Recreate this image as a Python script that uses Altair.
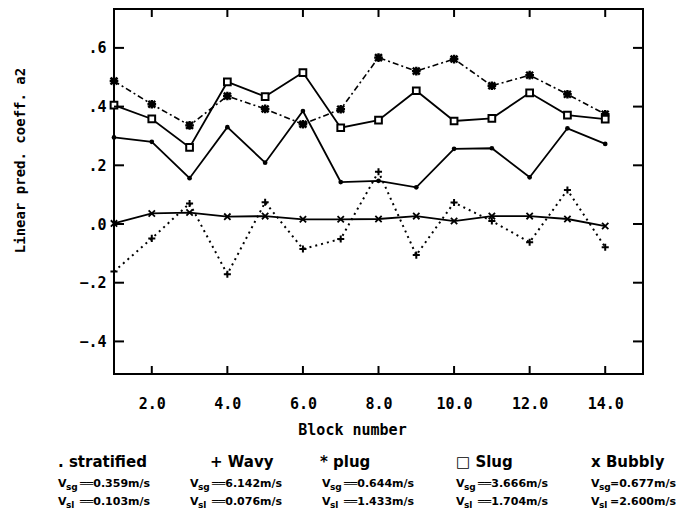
import altair as alt
import pandas as pd

# ---------------- data ----------------
blocks = list(range(1, 15))
stratified = [0.295, 0.280, 0.156, 0.330, 0.209, 0.385, 0.143, 0.147, 0.125, 0.256, 0.258, 0.159, 0.326, 0.273]
wavy = [-0.162, -0.049, 0.070, -0.171, 0.074, -0.085, -0.051, 0.178, -0.106, 0.073, 0.010, -0.062, 0.116, -0.079]
plug = [0.487, 0.408, 0.336, 0.436, 0.392, 0.340, 0.391, 0.567, 0.521, 0.562, 0.471, 0.507, 0.442, 0.374]
slug = [0.405, 0.358, 0.261, 0.484, 0.434, 0.516, 0.328, 0.354, 0.454, 0.351, 0.360, 0.447, 0.371, 0.357]
bubbly = [0.002, 0.036, 0.039, 0.025, 0.027, 0.016, 0.016, 0.017, 0.027, 0.010, 0.027, 0.027, 0.017, -0.007]

x_ticks = [2, 4, 6, 8, 10, 12, 14]
y_ticks = [-0.4, -0.2, 0.0, 0.2, 0.4, 0.6]

legend_names = [". stratified", "+ Wavy", "* plug", "\u25a1 Slug", "x Bubbly"]
vsg_values = ["0.359m/s", "6.142m/s", "0.644m/s", "3.666m/s", "0.677m/s"]
vsl_values = ["0.103m/s", "0.076m/s", "1.433m/s", "1.704m/s", "2.600m/s"]

# ---------------- layout ----------------
W, H = 529, 365
PLOT_LEFT, PLOT_TOP = 114, 9  # page coords of plot origin
name_x = [58, 210, 320, 456, 591]
v_x = [58, 190, 322, 456, 591]
eq_sign = ["\u2550\u2550", "\u2550\u2550", "\u2550\u2550", "\u2550\u2550", "="]
eq_gap = [22, 22, 22, 22, 19]
row_y = [462, 484, 502]

xs = alt.Scale(domain=[1, 15], nice=False, zero=False)
ys = alt.Scale(domain=[-0.511, 0.7325], nice=False, zero=False)

x_axis = alt.Axis(
    values=x_ticks, format=".1f", title="Block number", grid=False, domain=False,
    ticks=False, tickSize=0, labelPadding=22, labelFont="DejaVu Sans Mono",
    labelFontWeight="bold", labelFontSize=15, labelColor="black",
    titleFont="DejaVu Sans Mono", titleFontWeight="bold", titleFontSize=15,
    titleColor="black", titleX=352 - PLOT_LEFT, titleY=429 - 374, titleBaseline="middle",
    titleAlign="center",
)
y_axis = alt.Axis(
    values=y_ticks, grid=False, domain=False, ticks=False, tickSize=0, labelPadding=8,
    labelExpr="replace(format(datum.value, '.1f'), '0.', '.')",
    labelFont="DejaVu Sans Mono", labelFontWeight="bold", labelFontSize=15, labelColor="black",
    title="Linear pred. coeff. a2", titleFont="DejaVu Sans Mono", titleFontWeight="bold",
    titleFontSize=14, titleColor="black", titleX=20 - PLOT_LEFT, titleY=160 - PLOT_TOP,
    titleAngle=270, titleBaseline="middle", titleAlign="center",
)

X = alt.X("block:Q", scale=xs, axis=x_axis)
Y = alt.Y("value:Q", scale=ys, axis=y_axis)

def series_df(vals):
    return pd.DataFrame({"block": blocks, "value": vals})

PLUS = "M-1,0L1,0M0,-1L0,1"
CROSS = "M-1,-1L1,1M-1,1L1,-1"
STAR = "M-1,0L1,0M0,-1L0,1M-0.8,-0.8L0.8,0.8M-0.8,0.8L0.8,-0.8"

layers = []
# stratified
d = series_df(stratified)
layers.append(alt.Chart(d).mark_line(color="black", strokeWidth=1.8).encode(x=X, y=Y))
layers.append(alt.Chart(d).mark_point(shape="circle", filled=True, color="black", size=22, opacity=1).encode(x=X, y=Y))
# wavy
d = series_df(wavy)
layers.append(alt.Chart(d).mark_line(color="black", strokeWidth=2, strokeDash=[2, 4]).encode(x=X, y=Y))
layers.append(alt.Chart(d).mark_point(shape=PLUS, filled=False, color="black", size=50, strokeWidth=2, opacity=1).encode(x=X, y=Y))
# plug
d = series_df(plug)
layers.append(alt.Chart(d).mark_line(color="black", strokeWidth=1.6, strokeDash=[6, 3, 2, 3]).encode(x=X, y=Y))
layers.append(alt.Chart(d).mark_point(shape=STAR, filled=False, color="black", size=75, strokeWidth=2.4, opacity=1).encode(x=X, y=Y))
# slug
d = series_df(slug)
layers.append(alt.Chart(d).mark_line(color="black", strokeWidth=1.8).encode(x=X, y=Y))
layers.append(alt.Chart(d).mark_point(shape="square", filled=False, fill="white", fillOpacity=1, color="black", size=45, strokeWidth=2, opacity=1).encode(x=X, y=Y))
# bubbly
d = series_df(bubbly)
layers.append(alt.Chart(d).mark_line(color="black", strokeWidth=1.8).encode(x=X, y=Y))
layers.append(alt.Chart(d).mark_point(shape=CROSS, filled=False, color="black", size=40, strokeWidth=1.8, opacity=1).encode(x=X, y=Y))

# inward ticks on all four sides
xt = pd.DataFrame({"block": x_ticks})
yt = pd.DataFrame({"value": y_ticks})
layers.append(alt.Chart(xt).mark_rule(color="black", strokeWidth=2).encode(x=X, y=alt.value(H), y2=alt.value(H - 8)))
layers.append(alt.Chart(xt).mark_rule(color="black", strokeWidth=2).encode(x=X, y=alt.value(0), y2=alt.value(8)))
layers.append(alt.Chart(yt).mark_rule(color="black", strokeWidth=2).encode(y=Y, x=alt.value(0), x2=alt.value(10)))
layers.append(alt.Chart(yt).mark_rule(color="black", strokeWidth=2).encode(y=Y, x=alt.value(W - 10), x2=alt.value(W)))

# legend texts below the plot
names = pd.DataFrame({
    "t": legend_names,
    "px": [v - PLOT_LEFT for v in name_x],
    "py": [row_y[0] - PLOT_TOP] * 5,
})
main_rows, sub_rows = [], []
for i in range(5):
    for r, (sub, vals) in enumerate([("sg", vsg_values), ("sl", vsl_values)]):
        yy = row_y[r + 1] - PLOT_TOP
        x0 = v_x[i] - PLOT_LEFT
        main_rows.append({"t": "V", "px": x0, "py": yy})
        sub_rows.append({"t": sub, "px": x0 + 8, "py": yy + 3})
        main_rows.append({"t": eq_sign[i] + vals[i], "px": x0 + eq_gap[i], "py": yy})
main_df = pd.DataFrame(main_rows)
sub_df = pd.DataFrame(sub_rows)

def text_layer(df, size, font="DejaVu Sans"):
    return alt.Chart(df).mark_text(
        align="left", baseline="middle", font=font, fontWeight="bold", fontSize=size, color="black"
    ).encode(
        x=alt.X("px:Q", scale=None, axis=None),
        y=alt.Y("py:Q", scale=None, axis=None),
        text="t:N",
    )

layers.append(text_layer(names, 15))
layers.append(text_layer(main_df, 11))
layers.append(text_layer(sub_df, 9))

chart = alt.layer(*layers).properties(
    width=W, height=H,
    autosize=alt.AutoSizeParams(type="none"),
    padding={"left": PLOT_LEFT - 8, "top": PLOT_TOP - 8, "right": 668 - (PLOT_LEFT - 8) - W, "bottom": 503 - (PLOT_TOP - 8) - H},
    background="white",
).configure_view(stroke="black", strokeWidth=2)

chart.save("out.html", embed_options={"renderer": "svg", "actions": False})
